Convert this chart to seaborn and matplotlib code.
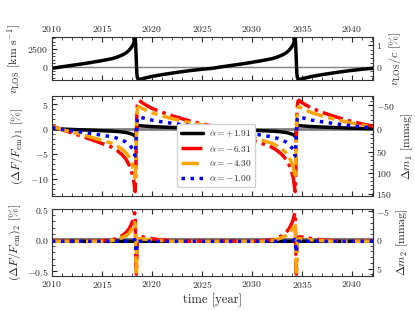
import numpy as np
import pandas as pd
import seaborn as sns
import matplotlib
matplotlib.use("Agg")
import matplotlib.pyplot as plt
from matplotlib.ticker import MultipleLocator, AutoMinorLocator

# time grid (years)
years = [2010.0, 2011.0, 2012.0, 2013.0, 2014.0, 2015.0, 2016.0, 2016.5, 2017.0, 2017.4, 2017.7, 2017.9,
         2018.1, 2018.2, 2018.27, 2018.32, 2018.36, 2018.40, 2018.44, 2018.48, 2018.53, 2018.60, 2018.68, 2018.80,
         2019.0, 2019.5, 2020.0, 2021.0, 2022.0, 2023.0, 2024.0, 2025.0,
         2026.0, 2027.0, 2028.0, 2029.0, 2030.0, 2031.0, 2032.0, 2032.5, 2033.0, 2033.4, 2033.7, 2033.9,
         2034.1, 2034.2, 2034.27, 2034.32, 2034.36, 2034.40, 2034.44, 2034.48, 2034.53, 2034.60, 2034.68, 2034.80,
         2035.0, 2035.5, 2036.0, 2037.0, 2038.0, 2039.0, 2040.0, 2041.0, 2042.0, 2042.1]

# line-of-sight velocity [km/s]
v_los = [-200, 20, 220, 420, 640, 880, 1150, 1360, 1640, 1950, 2300, 2650,
         3050, 3450, 3800, 4030, 3300, 2000, 500, -800, -1450, -1680, -1740, -1720,
         -1650, -1480, -1320, -1080, -860, -660, -480, -330,
         -200, 20, 220, 420, 640, 880, 1150, 1360, 1640, 1950, 2300, 2650,
         3050, 3450, 3800, 4030, 3300, 2000, 500, -800, -1450, -1680, -1740, -1720,
         -1650, -1480, -1320, -1080, -860, -660, -480, -330, -200, -190]

alpha_labels = [r"$\alpha=+1.91$", r"$\alpha=-6.31$", r"$\alpha=-4.30$", r"$\alpha=-1.00$"]

# first-order flux change [%]
flux1_a191 = [0.07, -0.01, -0.09, -0.17, -0.25, -0.34, -0.43, -0.50, -0.60, -0.71, -0.84, -0.96,
              -1.11, -1.25, -1.38, -1.47, -1.20, -0.73, -0.18, 0.29, 0.55, 0.65, 0.67, 0.65,
              0.62, 0.55, 0.48, 0.39, 0.31, 0.24, 0.17, 0.12,
              0.07, -0.01, -0.09, -0.17, -0.25, -0.34, -0.43, -0.50, -0.60, -0.71, -0.84, -0.96,
              -1.11, -1.25, -1.38, -1.47, -1.20, -0.73, -0.18, 0.29, 0.55, 0.65, 0.67, 0.65,
              0.62, 0.55, 0.48, 0.39, 0.31, 0.24, 0.17, 0.12, 0.07, 0.07]
flux1_a631 = [0.62, -0.12, -0.81, -1.46, -2.17, -2.89, -3.66, -4.29, -5.12, -6.06, -7.14, -8.23,
              -9.47, -10.71, -11.80, -12.51, -10.25, -6.21, -1.55, 2.48, 4.66, 5.53, 5.75, 5.59,
              5.28, 4.66, 4.13, 3.35, 2.67, 2.05, 1.49, 1.03,
              0.62, -0.12, -0.81, -1.46, -2.17, -2.89, -3.66, -4.29, -5.12, -6.06, -7.14, -8.23,
              -9.47, -10.71, -11.80, -12.51, -10.25, -6.21, -1.55, 2.48, 4.66, 5.53, 5.75, 5.59,
              5.28, 4.66, 4.13, 3.35, 2.67, 2.05, 1.49, 1.03, 0.62, 0.59]
flux1_a430 = [0.49, -0.10, -0.63, -1.14, -1.70, -2.26, -2.87, -3.36, -4.02, -4.75, -5.60, -6.45,
              -7.43, -8.40, -9.25, -9.81, -8.04, -4.87, -1.22, 1.95, 3.65, 4.33, 4.50, 4.38,
              4.14, 3.65, 3.24, 2.63, 2.09, 1.61, 1.17, 0.80,
              0.49, -0.10, -0.63, -1.14, -1.70, -2.26, -2.87, -3.36, -4.02, -4.75, -5.60, -6.45,
              -7.43, -8.40, -9.25, -9.81, -8.04, -4.87, -1.22, 1.95, 3.65, 4.33, 4.50, 4.38,
              4.14, 3.65, 3.24, 2.63, 2.09, 1.61, 1.17, 0.80, 0.49, 0.46]
flux1_a100 = [0.27, -0.05, -0.35, -0.63, -0.93, -1.24, -1.57, -1.84, -2.20, -2.60, -3.07, -3.54,
              -4.07, -4.60, -5.07, -5.38, -4.40, -2.67, -0.67, 1.07, 2.00, 2.37, 2.47, 2.40,
              2.27, 2.00, 1.77, 1.44, 1.15, 0.88, 0.64, 0.44,
              0.27, -0.05, -0.35, -0.63, -0.93, -1.24, -1.57, -1.84, -2.20, -2.60, -3.07, -3.54,
              -4.07, -4.60, -5.07, -5.38, -4.40, -2.67, -0.67, 1.07, 2.00, 2.37, 2.47, 2.40,
              2.27, 2.00, 1.77, 1.44, 1.15, 0.88, 0.64, 0.44, 0.27, 0.25]

# second-order flux change [%]
flux2_a191 = [-0.02, -0.02, -0.02, -0.02, -0.02, -0.02, -0.02, -0.02, -0.02, -0.02, -0.02, -0.02,
              -0.02, -0.02, -0.02, -0.02, -0.03, -0.04, -0.03, -0.02, -0.02, -0.02, -0.02, -0.02,
              -0.02, -0.02, -0.02, -0.02, -0.02, -0.02, -0.02, -0.02,
              -0.02, -0.02, -0.02, -0.02, -0.02, -0.02, -0.02, -0.02, -0.02, -0.02, -0.02, -0.02,
              -0.02, -0.02, -0.02, -0.02, -0.03, -0.04, -0.03, -0.02, -0.02, -0.02, -0.02, -0.02,
              -0.02, -0.02, -0.02, -0.02, -0.02, -0.02, -0.02, -0.02, -0.02, -0.02]
flux2_a631 = [-0.02, -0.02, -0.02, -0.02, -0.02, -0.01, 0.00, 0.03, 0.07, 0.12, 0.18, 0.24,
              0.32, 0.38, 0.44, 0.40, 0.05, -0.40, -0.55, -0.30, -0.05, 0.03, 0.05, 0.05,
              0.05, 0.04, 0.02, 0.00, -0.01, -0.02, -0.02, -0.02,
              -0.02, -0.02, -0.02, -0.02, -0.02, -0.01, 0.00, 0.03, 0.07, 0.12, 0.18, 0.24,
              0.32, 0.38, 0.44, 0.40, 0.05, -0.40, -0.55, -0.30, -0.05, 0.03, 0.05, 0.05,
              0.05, 0.04, 0.02, 0.00, -0.01, -0.02, -0.02, -0.02, -0.02, -0.02]
flux2_a430 = [-0.02, -0.02, -0.02, -0.02, -0.02, -0.02, -0.01, 0.01, 0.04, 0.07, 0.11, 0.15,
              0.20, 0.24, 0.28, 0.25, -0.05, -0.40, -0.52, -0.28, -0.06, 0.00, 0.02, 0.02,
              0.02, 0.01, 0.00, -0.01, -0.02, -0.02, -0.02, -0.02,
              -0.02, -0.02, -0.02, -0.02, -0.02, -0.02, -0.01, 0.01, 0.04, 0.07, 0.11, 0.15,
              0.20, 0.24, 0.28, 0.25, -0.05, -0.40, -0.52, -0.28, -0.06, 0.00, 0.02, 0.02,
              0.02, 0.01, 0.00, -0.01, -0.02, -0.02, -0.02, -0.02, -0.02, -0.02]
flux2_a100 = [-0.02, -0.02, -0.02, -0.02, -0.02, -0.02, -0.02, -0.02, -0.02, -0.02, -0.02, -0.02,
              -0.01, 0.00, 0.01, -0.02, -0.08, -0.18, -0.20, -0.10, -0.04, -0.02, -0.02, -0.02,
              -0.02, -0.02, -0.02, -0.02, -0.02, -0.02, -0.02, -0.02,
              -0.02, -0.02, -0.02, -0.02, -0.02, -0.02, -0.02, -0.02, -0.02, -0.02, -0.02, -0.02,
              -0.01, 0.00, 0.01, -0.02, -0.08, -0.18, -0.20, -0.10, -0.04, -0.02, -0.02, -0.02,
              -0.02, -0.02, -0.02, -0.02, -0.02, -0.02, -0.02, -0.02, -0.02, -0.02]

sns.set_style("ticks")
plt.rcParams["font.family"] = ["serif"]
plt.rcParams["font.serif"] = ["cmr10", "DejaVu Serif"]
plt.rcParams["mathtext.fontset"] = "cm"
plt.rcParams["axes.formatter.use_mathtext"] = True
plt.rcParams["axes.edgecolor"] = "#333333"

fig = plt.figure(figsize=(4.15, 3.11), dpi=100)
ax1 = fig.add_axes([0.1253, 0.7428, 0.7735, 0.1383])
ax2 = fig.add_axes([0.1253, 0.3698, 0.7735, 0.3215])
ax3 = fig.add_axes([0.1253, 0.1125, 0.7735, 0.2154])

colors = ["black", "red", "orange", "blue"]
styles = ["-", (0, (6, 1.5, 1, 1.5)), (0, (5, 1.5, 1.8, 1.5)), (0, (1, 1.6))]
f1 = [flux1_a191, flux1_a631, flux1_a430, flux1_a100]
f2 = [flux2_a191, flux2_a631, flux2_a430, flux2_a100]

# panel 1: velocity
ax1.axhline(0, color="gray", lw=1.0, zorder=1)
sns.lineplot(x=years, y=v_los, ax=ax1, color="black", lw=2.5)
ax1.set_ylim(-1820, 4170)

# panel 2 and 3: flux changes
ax2.axhline(0, color="gray", lw=2.0, zorder=1)
ax3.axhline(0, color="gray", lw=3.0, zorder=1)
for vals, c, ls, lab in zip(f1, colors, styles, alpha_labels):
    sns.lineplot(x=years, y=vals, ax=ax2, color=c, lw=2.5, label=lab)
    ax2.lines[-1].set_linestyle(ls)
for vals, c, ls in zip(f2, colors, styles):
    sns.lineplot(x=years, y=vals, ax=ax3, color=c, lw=2.5)
    ax3.lines[-1].set_linestyle(ls)
ax2.set_ylim(-13.4, 6.6)
ax3.set_ylim(-0.58, 0.5)

leg = ax2.legend(loc="lower left", bbox_to_anchor=(0.375, 0.04), fontsize=6.8,
                 handlelength=2.3, handletextpad=0.6, borderpad=0.45, labelspacing=0.5,
                 framealpha=1.0)
leg.get_frame().set_edgecolor("lightgray")
for h, ls in zip(leg.get_lines(), styles):
    h.set_linestyle(ls)

for ax in (ax1, ax2, ax3):
    ax.set_xlim(2010, 2042.1)
    ax.xaxis.set_major_locator(MultipleLocator(5))
    ax.xaxis.set_minor_locator(MultipleLocator(1))
    ax.tick_params(which="both", direction="in", top=True, right=False, labelsize=7, pad=2.5)
    ax.tick_params(which="major", length=3.5)
    ax.tick_params(which="minor", length=2)

ax1.tick_params(labeltop=True, labelbottom=False)
ax2.tick_params(labelbottom=False)
ax1.yaxis.set_major_locator(MultipleLocator(2500))
ax1.yaxis.set_minor_locator(MultipleLocator(500))
ax2.yaxis.set_major_locator(MultipleLocator(5))
ax2.yaxis.set_minor_locator(MultipleLocator(1))
ax3.yaxis.set_major_locator(MultipleLocator(0.5))
ax3.yaxis.set_minor_locator(MultipleLocator(0.1))

c_kms = 2997.92458
s1 = ax1.secondary_yaxis("right", functions=(lambda v: v / c_kms, lambda p: p * c_kms))
s2 = ax2.secondary_yaxis("right", functions=(lambda x: -2500 * np.log10(1 + x / 100),
                                             lambda m: (10 ** (-m / 2500) - 1) * 100))
s3 = ax3.secondary_yaxis("right", functions=(lambda x: -2500 * np.log10(1 + x / 100),
                                             lambda m: (10 ** (-m / 2500) - 1) * 100))
s1.yaxis.set_major_locator(MultipleLocator(1))
s1.yaxis.set_minor_locator(AutoMinorLocator(5))
s2.yaxis.set_major_locator(MultipleLocator(50))
s2.yaxis.set_minor_locator(MultipleLocator(10))
s3.yaxis.set_major_locator(MultipleLocator(5))
s3.yaxis.set_minor_locator(MultipleLocator(1))
for s in (s1, s2, s3):
    s.tick_params(which="both", direction="in", labelsize=7, pad=2.5)
    s.tick_params(which="major", length=3.5)
    s.tick_params(which="minor", length=2)

lab_fs = 8.5
ax1.set_ylabel(r"$v_{\mathrm{LOS}}$ [km s$^{-1}$]", fontsize=lab_fs, labelpad=3)
ax2.set_ylabel(r"$(\Delta F/F_{\mathrm{em}})_1$ [%]", fontsize=lab_fs, labelpad=3)
ax3.set_ylabel(r"$(\Delta F/F_{\mathrm{em}})_2$ [%]", fontsize=lab_fs, labelpad=3)
s1.set_ylabel(r"$v_{\mathrm{LOS}}/c$ [%]", fontsize=lab_fs, labelpad=3)
s2.set_ylabel(r"$\Delta m_1$ [mmag]", fontsize=lab_fs, labelpad=3)
s3.set_ylabel(r"$\Delta m_2$ [mmag]", fontsize=lab_fs, labelpad=3)
ax3.set_xlabel("time [year]", fontsize=9, labelpad=2)

fig.savefig("out.png", dpi=100)
